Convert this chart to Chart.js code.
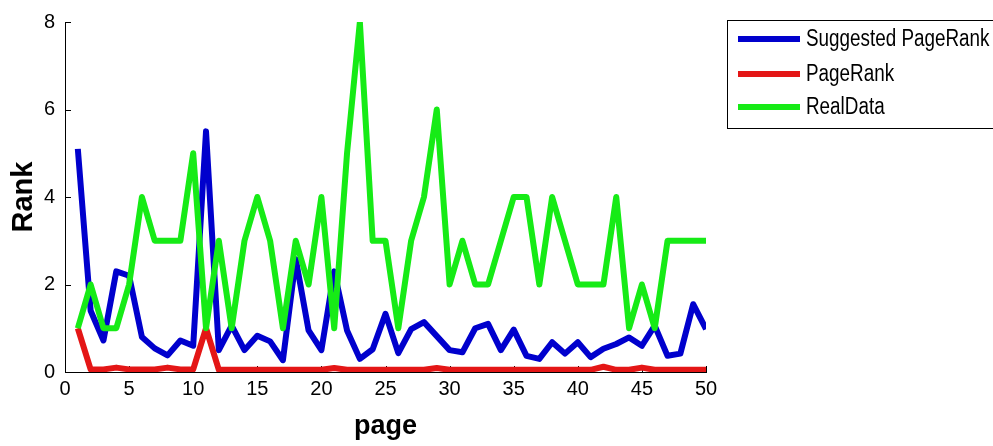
<!DOCTYPE html>
<html>
<head>
<meta charset="utf-8">
<script src="https://cdn.jsdelivr.net/npm/chart.js@4/dist/chart.umd.min.js"></script>
<style>
  html, body { margin: 0; padding: 0; background: #fff; }
  #wrap { width: 993px; height: 446px; }
</style>
</head>
<body>
<div id="wrap"><canvas id="c" width="993" height="446"></canvas></div>
<script>
// ── dados ──
const pages = [1, 2, 3, 4, 5, 6, 7, 8, 9, 10,
  11, 12, 13, 14, 15, 16, 17, 18, 19, 20,
  21, 22, 23, 24, 25, 26, 27, 28, 29, 30,
  31, 32, 33, 34, 35, 36, 37, 38, 39, 40,
  41, 42, 43, 44, 45, 46, 47, 48, 49, 50];

const suggestedRank = [5.1, 1.4, 0.72, 2.3, 2.2, 0.8, 0.54, 0.38, 0.72, 0.6,
  5.5, 0.5, 1.06, 0.5, 0.83, 0.7, 0.27, 2.58, 0.95, 0.5,
  2.3, 0.95, 0.3, 0.52, 1.33, 0.43, 0.98, 1.14, 0.82, 0.5,
  0.45, 1.0, 1.1, 0.5, 0.97, 0.37, 0.3, 0.68, 0.42, 0.68,
  0.34, 0.53, 0.64, 0.79, 0.6, 1.06, 0.37, 0.42, 1.55, 0.98];

const pageRank = [1.0, 0.06, 0.06, 0.1, 0.06, 0.06, 0.06, 0.1, 0.06, 0.06,
  1.0, 0.05, 0.05, 0.05, 0.05, 0.05, 0.05, 0.05, 0.05, 0.05,
  0.09, 0.05, 0.05, 0.05, 0.05, 0.05, 0.05, 0.05, 0.09, 0.05,
  0.05, 0.05, 0.05, 0.05, 0.05, 0.05, 0.05, 0.05, 0.05, 0.05,
  0.05, 0.12, 0.05, 0.05, 0.1, 0.05, 0.05, 0.05, 0.05, 0.05];

const realData = [1, 2, 1, 1, 2, 4, 3, 3, 3, 5,
  1, 3, 1, 3, 4, 3, 1, 3, 2, 4,
  1, 5, 8, 3, 3, 1, 3, 4, 6, 2,
  3, 2, 2, 3, 4, 4, 2, 4, 3, 2,
  2, 2, 4, 1, 2, 1, 3, 3, 3, 3];

const xTicks = [0, 5, 10, 15, 20, 25, 30, 35, 40, 45, 50];
const yTicks = [0, 2, 4, 6, 8];

const seriesNames = ['Suggested PageRank', 'PageRank', 'RealData'];
const seriesColors = ['rgb(0,0,205)', 'rgb(228,22,22)', 'rgb(22,235,22)'];

const SANS = "'Liberation Sans', Arial, sans-serif";

const toPts = vals => pages.map((p, i) => ({ x: p, y: vals[i] }));

// ── marcas de escala para dentro (estilo MATLAB) ──
const innerTicks = {
  id: 'innerTicks',
  beforeDatasetsDraw(chart) {
    const { ctx, chartArea: a, scales: { x, y } } = chart;
    ctx.save();
    ctx.strokeStyle = '#000';
    ctx.lineWidth = 1;
    ctx.beginPath();
    xTicks.forEach(v => {
      const px = Math.round(x.getPixelForValue(v)) + 0.5;
      ctx.moveTo(px, a.bottom);
      ctx.lineTo(px, a.bottom - 6);
    });
    yTicks.forEach(v => {
      const py = Math.round(y.getPixelForValue(v)) + 0.5;
      ctx.moveTo(a.left, py);
      ctx.lineTo(a.left + 6, py);
    });
    ctx.stroke();
    ctx.restore();
  }
};

// ── legenda em caixa no canto superior direito ──
const boxLegend = {
  id: 'boxLegend',
  afterDraw(chart) {
    const { ctx } = chart;
    const left = 727.5, top = 20.5, bottom = 128.5;
    const rows = [39, 74, 107];
    ctx.save();
    ctx.fillStyle = '#fff';
    ctx.fillRect(left, top, 993 - left + 5, bottom - top);
    ctx.strokeStyle = '#000';
    ctx.lineWidth = 1;
    ctx.strokeRect(left, top, 993 - left + 5, bottom - top);
    chart.data.datasets.forEach((ds, i) => {
      ctx.strokeStyle = ds.borderColor;
      ctx.lineWidth = 6;
      ctx.beginPath();
      ctx.moveTo(738, rows[i]);
      ctx.lineTo(800, rows[i]);
      ctx.stroke();
      // texto estreito (fonte condensada não existe, comprime na horizontal)
      ctx.save();
      ctx.translate(806, rows[i] + 1);
      ctx.scale(0.82, 1);
      ctx.fillStyle = '#000';
      ctx.font = '23px ' + SANS;
      ctx.textBaseline = 'middle';
      ctx.textAlign = 'left';
      ctx.fillText(ds.label, 0, 0);
      ctx.restore();
    });
    ctx.restore();
  }
};

new Chart(document.getElementById('c'), {
  type: 'line',
  data: {
    datasets: [
      { label: seriesNames[0], data: toPts(suggestedRank), borderColor: seriesColors[0], order: 2 },
      { label: seriesNames[1], data: toPts(pageRank), borderColor: seriesColors[1], order: 1 },
      { label: seriesNames[2], data: toPts(realData), borderColor: seriesColors[2], order: 0 },
    ]
  },
  options: {
    responsive: false,
    animation: false,
    devicePixelRatio: 1,
    elements: {
      line: { borderWidth: 6, tension: 0, borderJoinStyle: 'round', borderCapStyle: 'butt', fill: false },
      point: { radius: 0, hoverRadius: 0 },
    },
    layout: { padding: { top: 20, right: 287, bottom: 0, left: 0 } },
    plugins: { legend: { display: false }, tooltip: { enabled: false } },
    scales: {
      x: {
        type: 'linear', min: 0, max: 50,
        afterBuildTicks: s => { s.ticks = xTicks.map(v => ({ value: v })); },
        afterFit: s => { s.height = 74; },
        ticks: { color: '#000', font: { size: 20, family: SANS }, padding: 5, maxRotation: 0, autoSkip: false },
        grid: { drawOnChartArea: false, drawTicks: false },
        border: { display: true, color: '#000', width: 1 },
        title: { display: true, text: 'page', color: '#000', font: { size: 27, weight: 'bold', family: SANS }, padding: { top: 0, bottom: 3 } },
      },
      y: {
        type: 'linear', min: 0, max: 8,
        afterBuildTicks: s => { s.ticks = yTicks.map(v => ({ value: v })); },
        afterFit: s => { s.width = 65; },
        ticks: { color: '#000', font: { size: 20, family: SANS }, padding: 10 },
        grid: { drawOnChartArea: false, drawTicks: false },
        border: { display: true, color: '#000', width: 1 },
        title: { display: true, text: 'Rank', color: '#000', font: { size: 29, weight: 'bold', family: SANS }, padding: { top: 7, bottom: 0 } },
      },
    },
  },
  plugins: [innerTicks, boxLegend],
});
</script>
</body>
</html>
